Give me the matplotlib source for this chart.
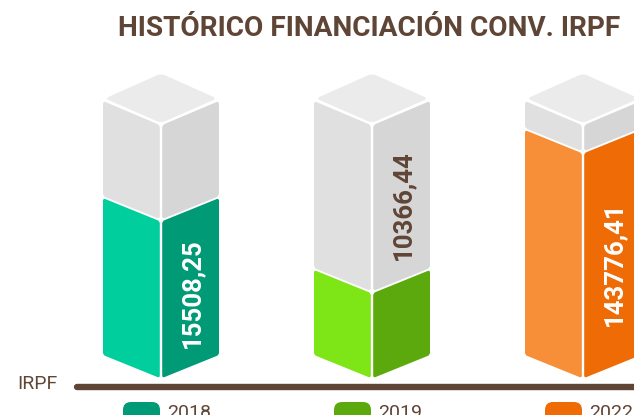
#!/usr/bin/env python3
import matplotlib
matplotlib.use('Agg')
import matplotlib.pyplot as plt
from matplotlib.patches import PathPatch, FancyBboxPatch
from matplotlib.path import Path
import numpy as np

years = ['2018', '2019', '2022']
labels = ['15508,25', '10366,44', '143776,41']
# share of the column that is filled
fill_share = [0.62, 0.336, 0.889]
light_colors = ['#00cf9d', '#7ee516', '#f68f37']
dark_colors = ['#009b76', '#5ca90e', '#ee6b06']
label_colors = ['white', '#5f4536', 'white']

BROWN = '#5f4536'
FONT = 'Roboto'

centers = [161, 372, 583]
label_ys = [293, 205, 264]
half_w = 58
slope = 23
col_bottom = 355
col_top = 102
col_height = col_bottom - col_top


def rounded(points, r=3.0):
    # closed polygon with softened corners
    pts = [np.array(p, dtype=float) for p in points]
    verts = []
    codes = []
    n = len(pts)
    for i in range(n):
        prev_p, p, next_p = pts[i - 1], pts[i], pts[(i + 1) % n]
        a = p + (prev_p - p) / np.linalg.norm(prev_p - p) * r
        b = p + (next_p - p) / np.linalg.norm(next_p - p) * r
        verts.append(a)
        codes.append(Path.MOVETO if i == 0 else Path.LINETO)
        verts.extend([p, b])
        codes.extend([Path.CURVE3, Path.CURVE3])
    verts.append(verts[0])
    codes.append(Path.CLOSEPOLY)
    return Path(verts, codes)


def face(ax, points, color, zorder=2, r=3.0):
    ax.add_patch(PathPatch(rounded(points, r), facecolor=color, edgecolor='none', zorder=zorder))


fig = plt.figure(figsize=(6.34, 4.15), dpi=100)
ax = fig.add_axes([0, 0, 1, 1])
ax.set_xlim(0, 634)
ax.set_ylim(415, 0)
ax.axis('off')

for i, c in enumerate(centers):
    level = col_bottom - fill_share[i] * col_height
    l, r = c - half_w, c + half_w
    gap = 1.2

    # cap
    face(ax, [(c, 73.5), (r - 2, 98.5), (c, 123), (l + 2, 98.5)], '#ebebeb', r=4.5)

    # grey part of the column
    face(ax, [(l, 101), (c - gap, 125), (c - gap, level + 21), (l, level - 2)], '#e0e0e0')
    face(ax, [(c + gap, 125), (r, 101), (r, level - 2), (c + gap, level + 21)], '#d6d6d6')

    # filled part
    face(ax, [(l, level), (c - gap, level + 23), (c - gap, col_bottom + slope), (l, col_bottom)], light_colors[i], r=2.5)
    face(ax, [(c + gap, level + 23), (r, level), (r, col_bottom), (c + gap, col_bottom + slope)], dark_colors[i], r=2.5)

    # value label
    ax.text(c + 31, label_ys[i], labels[i], rotation=90, ha='center', va='center',
            color=label_colors[i], fontsize=18.5, fontweight='bold', family=FONT, zorder=5)

    # legend
    ax.add_patch(FancyBboxPatch((c - 30, 410), 21, 12, boxstyle='round,pad=8,rounding_size=8',
                                facecolor=dark_colors[i], edgecolor='none', zorder=1))
    ax.text(c + 6, 412.5, years[i], ha='left', va='center', color=BROWN, fontsize=14, family=FONT)

ax.plot([77, 640], [387, 387], color=BROWN, lw=4.6, solid_capstyle='round', zorder=3)
ax.text(17, 384, 'IRPF', ha='left', va='center', color=BROWN, fontsize=14, family=FONT)
ax.text(369, 28, 'HISTÓRICO FINANCIACIÓN CONV. IRPF', ha='center', va='center',
        color=BROWN, fontsize=20.2, fontweight='bold', family=FONT)

fig.savefig('out.png', dpi=100)
